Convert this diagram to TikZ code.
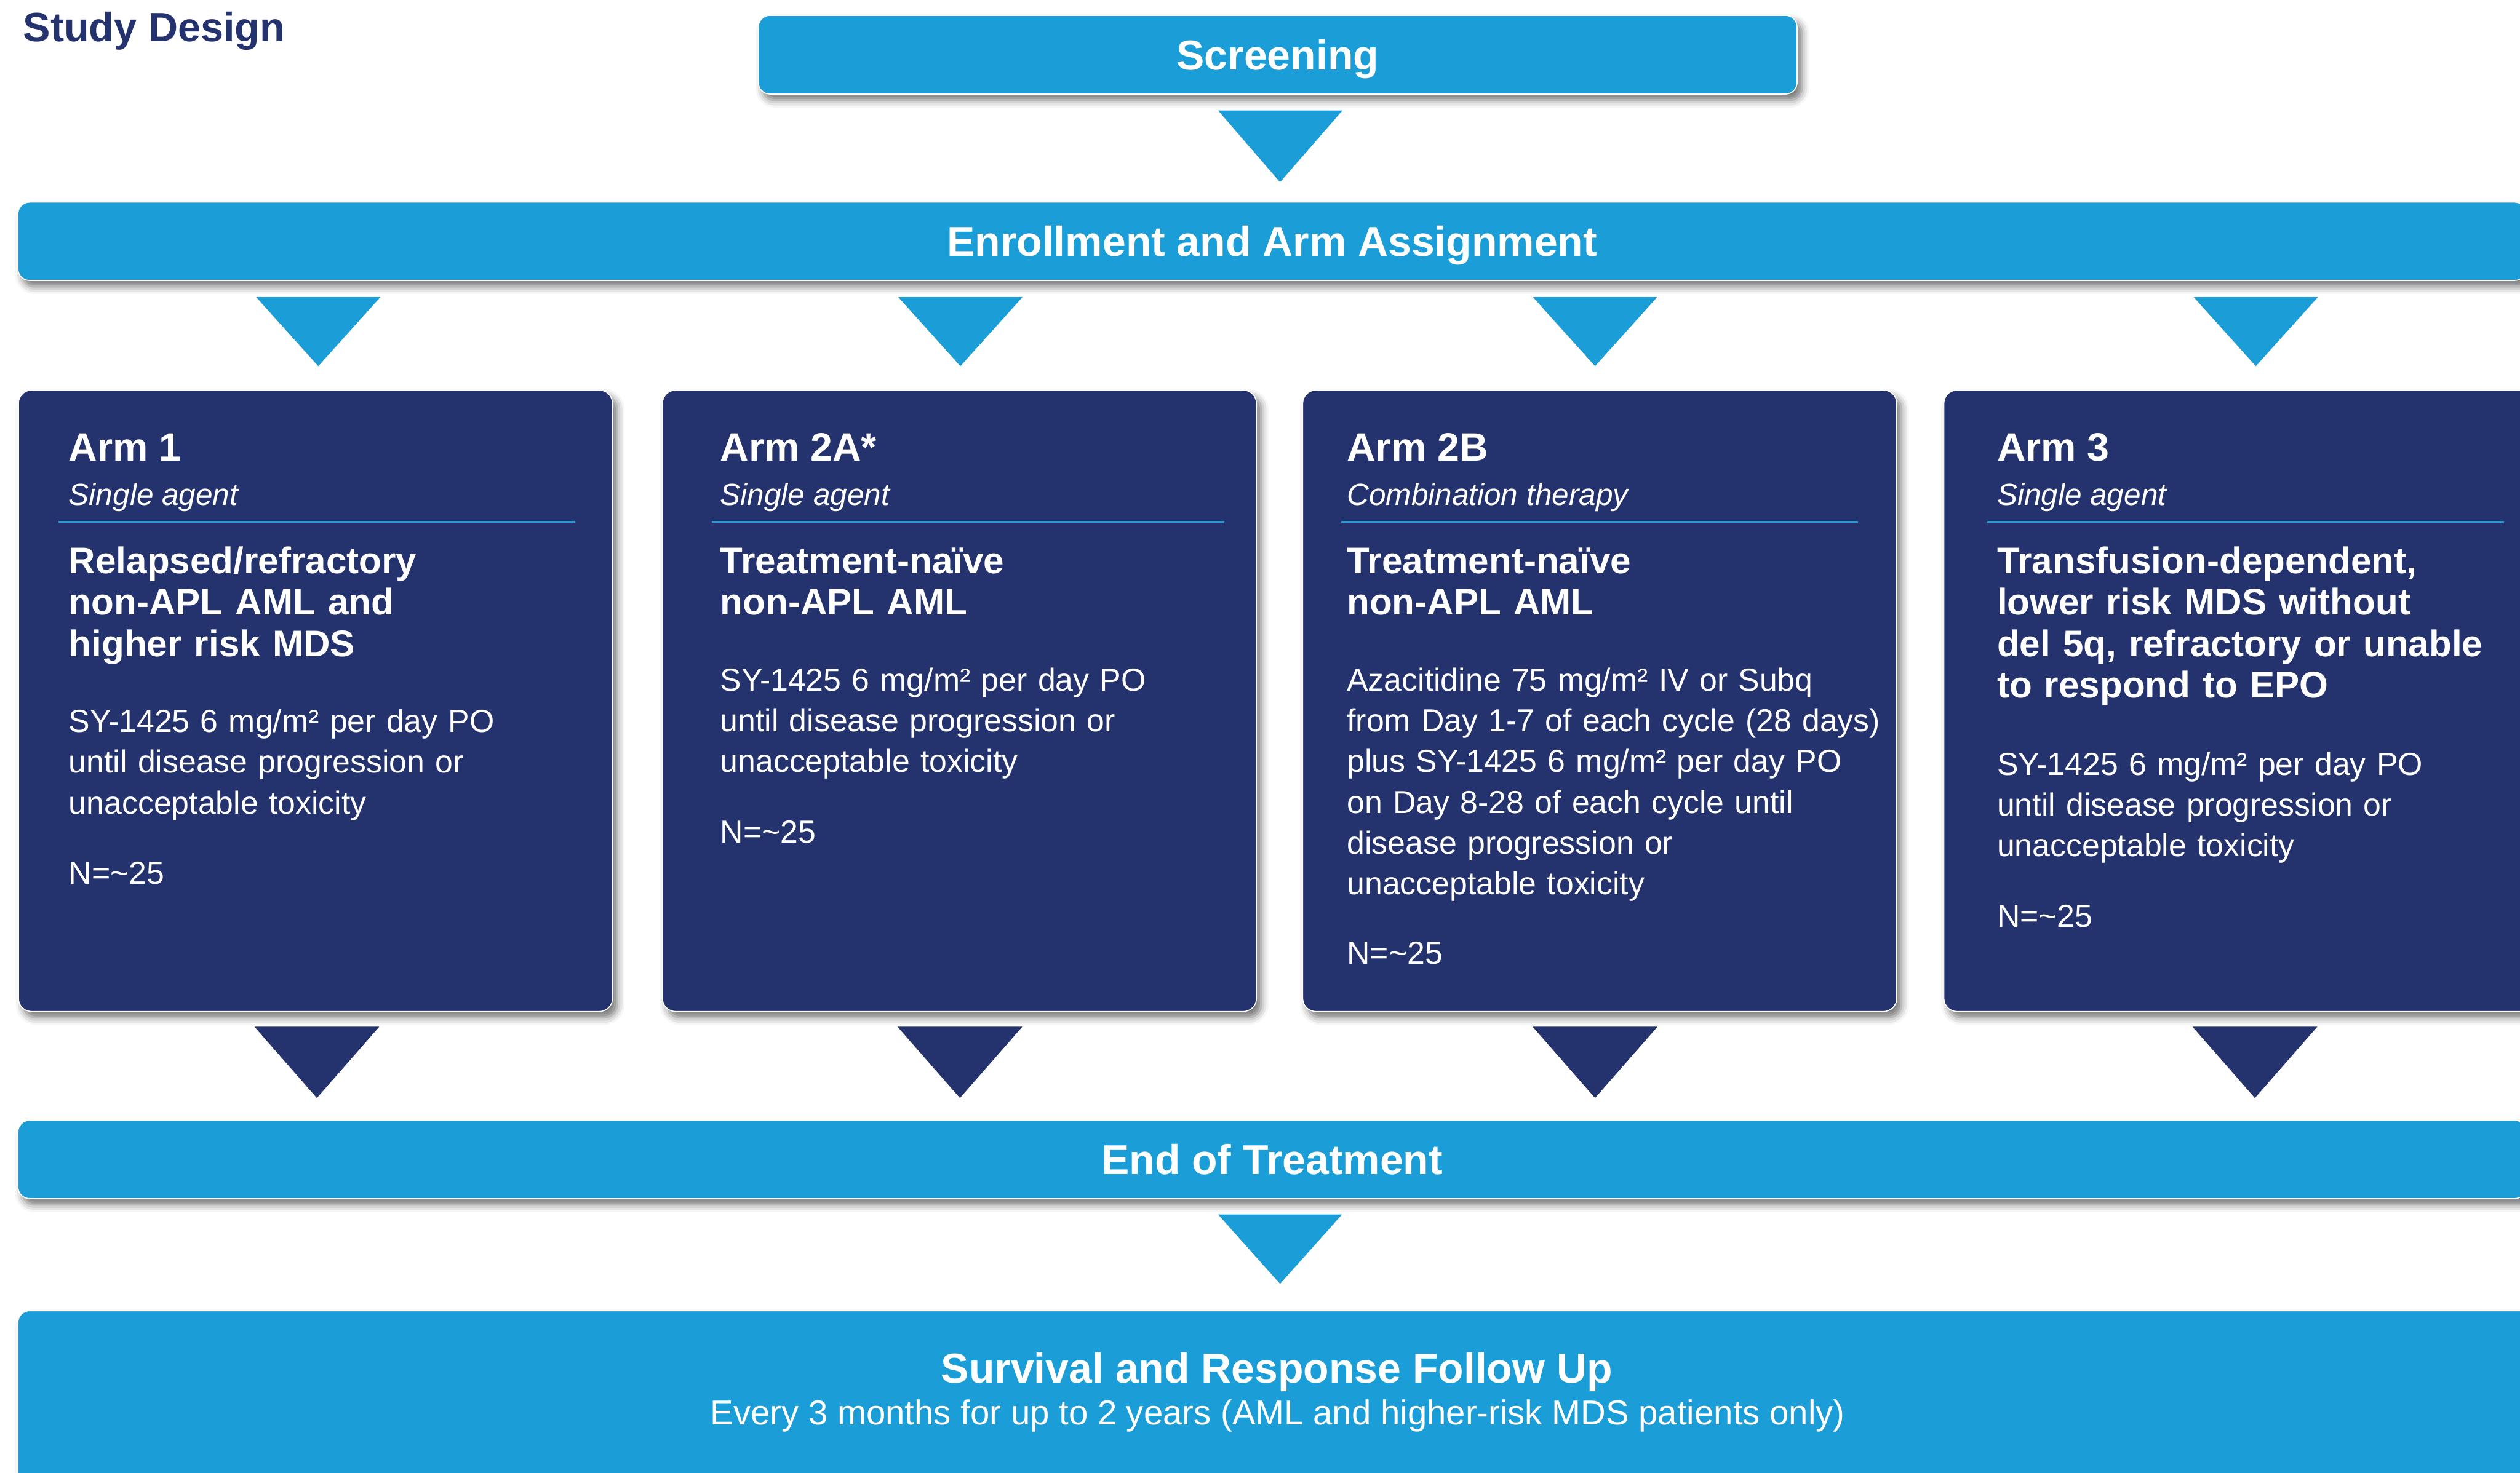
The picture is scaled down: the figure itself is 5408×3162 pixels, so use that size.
\documentclass[tikz,border=0pt]{standalone}
\usepackage{fontspec}
\setmainfont{Liberation Sans}
\usetikzlibrary{shadows.blur,calc}
\definecolor{lb}{HTML}{1B9ED8}
\definecolor{navy}{HTML}{24326E}
\begin{document}
\begin{tikzpicture}[x=0.01cm,y=-0.01cm,
  shad/.style={blur shadow={shadow xshift=0.1cm, shadow yshift=-0.13cm, shadow blur radius=0.16cm, shadow opacity=55}},
  bar/.style={rectangle, rounded corners=0.25cm, fill=lb, draw=white, line width=0.6pt, shad,
    inner sep=0pt, text=white, font=\fontsize{25.5pt}{30pt}\selectfont\bfseries, text height=18.2pt, text depth=0pt},
  armbox/.style={rectangle, rounded corners=0.28cm, fill=navy, draw=white, line width=0.6pt, shad,
    minimum width=12.74cm, minimum height=13.33cm, inner sep=0pt},
  armtitle/.style={anchor=base west, inner sep=0pt, text=white, font=\fontsize{24.2pt}{28pt}\selectfont\bfseries},
  armsub/.style={anchor=base west, inner sep=0pt, text=white, font=\fontsize{18.6pt}{22pt}\selectfont\itshape},
  armhead/.style={anchor=base west, inner sep=0pt, text=white, text width=12cm, align=left,
    font=\fontsize{22.6pt}{25.3pt}\selectfont\bfseries},
  armbody/.style={anchor=base west, inner sep=0pt, text=white, text width=12cm, align=left,
    font=\fontsize{19.45pt}{24.9pt}\selectfont},
  sepline/.style={draw=lb, line width=1pt},
  lbtri/.style={fill=lb},
  nvtri/.style={fill=navy}
]
\useasboundingbox (0,0) rectangle (5408,3162);

% title
\node[anchor=base west, inner sep=0pt, text=navy, font=\fontsize{25pt}{30pt}\selectfont\bfseries] (title) at (49,89) {Study Design};

% bars
\node[bar, minimum width=22.28cm, minimum height=1.69cm] (screen) at (2742,117.5) {Screening};
\node[bar, minimum width=53.8cm, minimum height=1.68cm] (enroll) at (2730,518) {Enrollment and Arm Assignment};
\node[bar, minimum width=53.8cm, minimum height=1.68cm] (eot) at (2730,2489) {End of Treatment};
\node[bar, minimum width=54cm, minimum height=4.4cm] (surv) at (2740,3034) {};
\node[anchor=base, inner sep=0pt, text=white, font=\fontsize{25.5pt}{30pt}\selectfont\bfseries] (survt) at (2740,2969) {Survival and Response Follow Up};
\node[anchor=base, inner sep=0pt, text=white, font=\fontsize{21.15pt}{25pt}\selectfont] (survs) at (2742,3058) {Every 3 months for up to 2 years (AML and higher-risk MDS patients only)};

% arm boxes
\node[armbox] (arm1) at (677,1504.5) {};
\node[armbox] (arm2a) at (2059,1504.5) {};
\node[armbox] (arm2b) at (3433,1504.5) {};
\node[armbox] (arm3) at (4809,1504.5) {};

% Arm 1
\node[armtitle] (a1t) at (147,990) {Arm 1};
\node[armsub] (a1s) at (147,1084) {Single agent};
\coordinate (a1l) at (125,1120); \coordinate (a1r) at (1235,1120);
\draw[sepline] (a1l) -- (a1r);
\node[armhead] (a1h) at (147,1231) {Relapsed/refractory\\non-APL AML and\\higher risk MDS};
\node[armbody] (a1b) at (147,1572) {SY-1425 6 mg/m² per day PO\\until disease progression or\\unacceptable toxicity};
\node[armbody] (a1n) at (147,1898) {N=\textasciitilde25};

% Arm 2A
\node[armtitle] (a2t) at (1545,990) {Arm 2A*};
\node[armsub] (a2s) at (1545,1084) {Single agent};
\coordinate (a2l) at (1528,1120); \coordinate (a2r) at (2628,1120);
\draw[sepline] (a2l) -- (a2r);
\node[armhead] (a2h) at (1545,1231) {Treatment-naïve\\non-APL AML};
\node[armbody] (a2b) at (1545,1483) {SY-1425 6 mg/m² per day PO\\until disease progression or\\unacceptable toxicity};
\node[armbody] (a2n) at (1545,1809) {N=\textasciitilde25};

% Arm 2B
\node[armtitle] (a3t) at (2890,990) {Arm 2B};
\node[armsub] (a3s) at (2890,1084) {Combination therapy};
\coordinate (a3l) at (2878,1120); \coordinate (a3r) at (3987,1120);
\draw[sepline] (a3l) -- (a3r);
\node[armhead] (a3h) at (2890,1231) {Treatment-naïve\\non-APL AML};
\node[armbody] (a3b) at (2890,1483) {Azacitidine 75 mg/m² IV or Subq\\from Day 1-7 of each cycle (28 days)\\plus SY-1425 6 mg/m² per day PO\\on Day 8-28 of each cycle until\\disease progression or\\unacceptable toxicity};
\node[armbody] (a3n) at (2890,2070) {N=\textasciitilde25};

% Arm 3
\node[armtitle] (a4t) at (4285,990) {Arm 3};
\node[armsub] (a4s) at (4285,1084) {Single agent};
\coordinate (a4l) at (4265,1120); \coordinate (a4r) at (5374,1120);
\draw[sepline] (a4l) -- (a4r);
\node[armhead] (a4h) at (4285,1231) {Transfusion-dependent,\\lower risk MDS without\\del 5q, refractory or unable\\to respond to EPO};
\node[armbody] (a4b) at (4285,1664) {SY-1425 6 mg/m² per day PO\\until disease progression or\\unacceptable toxicity};
\node[armbody] (a4n) at (4285,1990) {N=\textasciitilde25};

% triangles
\coordinate (t0) at (2747,237);
\fill[lbtri] (t0) ++(-133,0) -- ++(267,0) -- (2747,391) -- cycle;
\foreach \cx/\nm in {683/e1,2061/e2,3423/e3,4841/e4}{
  \coordinate (\nm) at (\cx,638);
  \fill[lbtri] (\nm) ++(-133,0) -- ++(266,0) -- (\cx,786) -- cycle;
}
\foreach \cx/\nm in {680/d1,2060/d2,3423/d3,4839/d4}{
  \coordinate (\nm) at (\cx,2204);
  \fill[nvtri] (\nm) ++(-134,0) -- ++(268,0) -- (\cx,2357) -- cycle;
}
\coordinate (t5) at (2747,2607);
\fill[lbtri] (t5) ++(-133,0) -- ++(266,0) -- (2747,2756) -- cycle;
\end{tikzpicture}
\end{document}
